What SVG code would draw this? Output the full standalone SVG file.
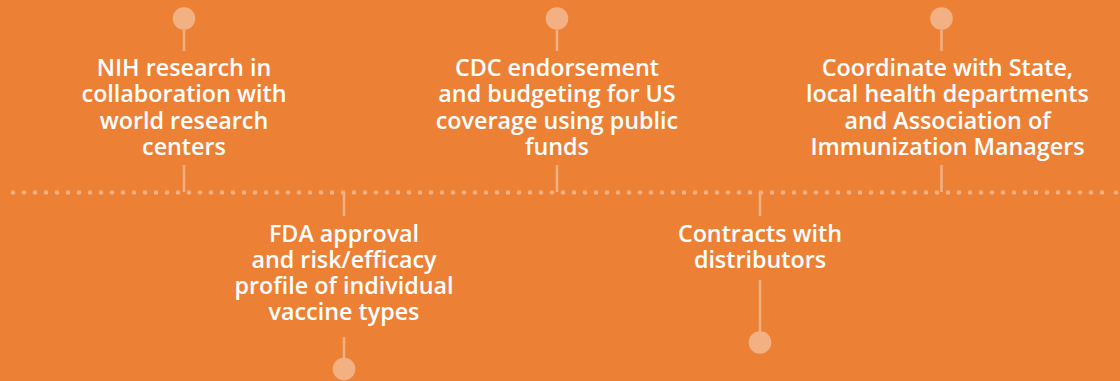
<svg xmlns="http://www.w3.org/2000/svg" width="1120" height="381" viewBox="0 0 1120 381">
<style>
.bg{fill:#EC8136}
.dot{fill:#F3B083}
.stem{stroke:#F3B083;stroke-width:2.5;fill:none}
.dots{stroke:#F3B083;stroke-width:4.6;stroke-linecap:round;stroke-dasharray:0 11;fill:none}
.lbl{font-family:"Open Sans","Noto Sans","Liberation Sans",sans-serif;font-weight:600;font-size:23.3px;fill:#FFFFFF;text-anchor:middle}
</style>
<rect class="bg" x="0" y="0" width="1120" height="381"/>
<g id="timeline">
<line class="dots" x1="13" y1="192.5" x2="1113" y2="192.5"/>
<circle class="dot" cx="1116" cy="192.5" r="2.3"/>
</g>
<g id="connectors">
<line class="stem" x1="184" y1="30" x2="184" y2="51"/>
<line class="stem" x1="184" y1="165" x2="184" y2="192"/>
<line class="stem" x1="344" y1="192" x2="344" y2="216"/>
<line class="stem" x1="344" y1="337" x2="344" y2="358"/>
<line class="stem" x1="557" y1="30" x2="557" y2="51"/>
<line class="stem" x1="557" y1="165" x2="557" y2="192"/>
<line class="stem" x1="760" y1="192" x2="760" y2="216"/>
<line class="stem" x1="760" y1="280" x2="760" y2="332"/>
<line class="stem" x1="941.5" y1="30" x2="941.5" y2="51"/>
<line class="stem" x1="941.5" y1="165" x2="941.5" y2="192"/>
</g>
<g id="node-nih">
<circle class="dot" cx="184" cy="18.5" r="11.3"/>
<text class="lbl" x="184" y="76">NIH research in</text>
<text class="lbl" x="184" y="102.3">collaboration with</text>
<text class="lbl" x="184" y="128.6">world research</text>
<text class="lbl" x="184" y="155">centers</text>
</g>
<g id="node-fda">
<text class="lbl" x="344" y="241.5">FDA approval</text>
<text class="lbl" x="344" y="267.8">and risk/efficacy</text>
<text class="lbl" x="344" y="294">profile of individual</text>
<text class="lbl" x="344" y="320.3">vaccine types</text>
<circle class="dot" cx="344" cy="369" r="11.3"/>
</g>
<g id="node-cdc">
<circle class="dot" cx="557" cy="18.5" r="11.3"/>
<text class="lbl" x="557" y="76">CDC endorsement</text>
<text class="lbl" x="557" y="102.3">and budgeting for US</text>
<text class="lbl" x="557" y="128.6">coverage using public</text>
<text class="lbl" x="557" y="155">funds</text>
</g>
<g id="node-contracts">
<text class="lbl" x="760" y="241.5">Contracts with</text>
<text class="lbl" x="760" y="267.8">distributors</text>
<circle class="dot" cx="760" cy="342.5" r="11.3"/>
</g>
<g id="node-coordinate">
<circle class="dot" cx="941.5" cy="18.5" r="11.3"/>
<text class="lbl" x="947.5" y="76">Coordinate with State,</text>
<text class="lbl" x="947.5" y="102.3">local health departments</text>
<text class="lbl" x="947.5" y="128.6">and Association of</text>
<text class="lbl" x="947.5" y="155">Immunization Managers</text>
</g>
</svg>
